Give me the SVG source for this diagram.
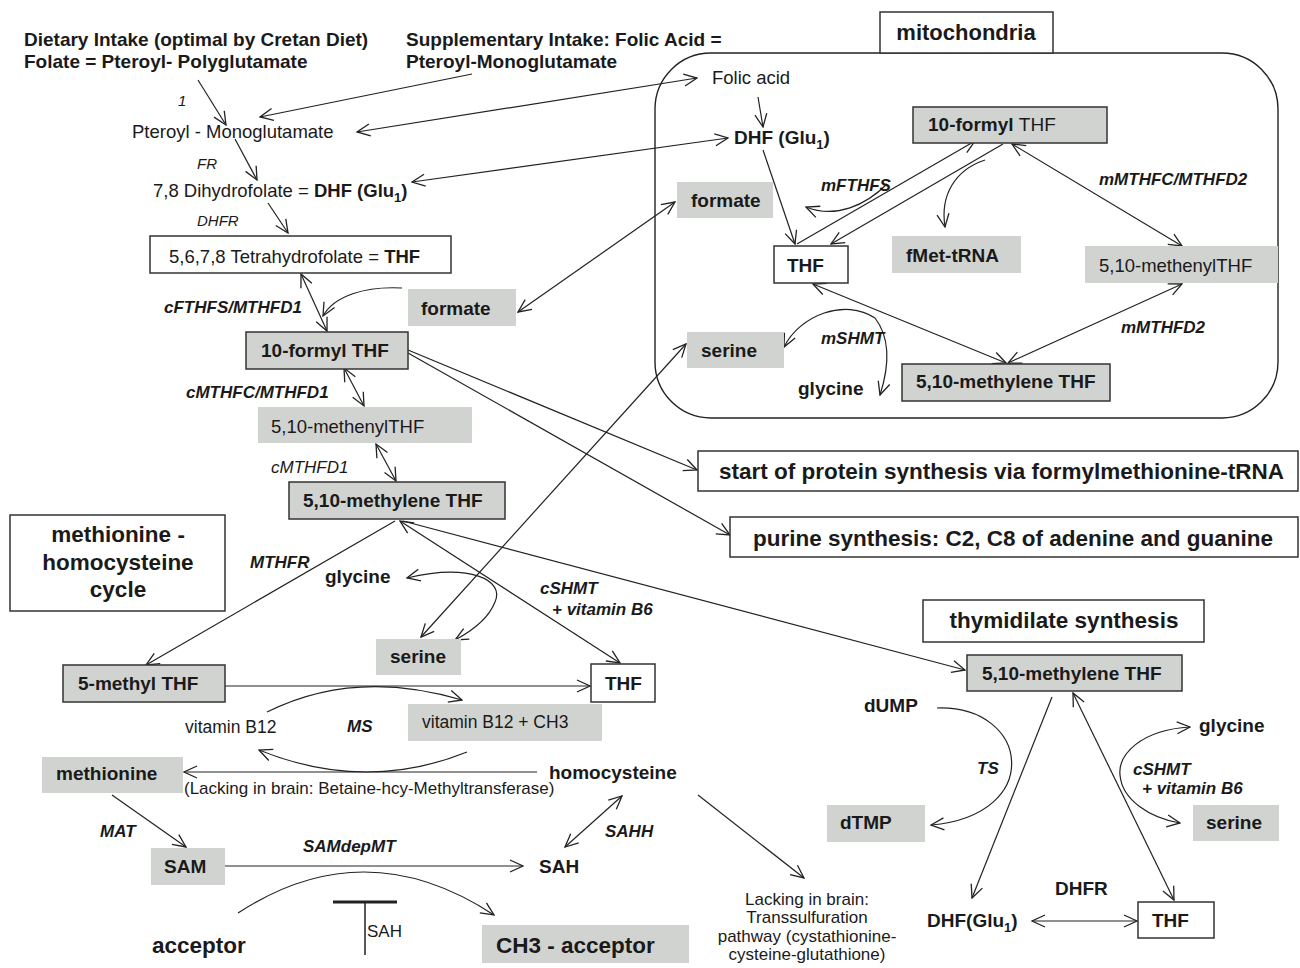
<svg xmlns="http://www.w3.org/2000/svg" width="1300" height="968" viewBox="0 0 1300 968">
<defs>
<marker id="a" markerUnits="userSpaceOnUse" markerWidth="15" markerHeight="15" viewBox="0 0 15 15" refX="14" refY="7.5" orient="auto-start-reverse">
<path d="M1,1.5 L14,7.5 L1,13.5" fill="none" stroke="#222" stroke-width="1.3"/>
</marker>
</defs>
<style>
text{font-family:"Liberation Sans",Arial,sans-serif;fill:#1a1a1a}
.b{font-weight:bold}
.r{font-size:18.5px}
.n{font-size:19px;font-weight:bold}
.e{font-size:17px;font-weight:bold;font-style:italic}
.i{font-size:15px;font-style:italic}
.h{font-size:19px;font-weight:bold}
.big{font-size:22.5px;font-weight:bold}
.g{fill:#d1d3d1;stroke:none}
.gb{fill:#d1d3d1;stroke:#333;stroke-width:1.5}
.w{fill:#fff;stroke:#333;stroke-width:1.5}
.c line,.c path{stroke:#222;stroke-width:1.2;fill:none}
.s{marker-end:url(#a)}
.d{marker-start:url(#a);marker-end:url(#a)}
</style>

<!-- containers -->
<rect id="mito-compartment" x="655" y="53" width="623" height="365" rx="56" fill="none" stroke="#222" stroke-width="1.4"/>

<g id="headers">
<text class="h" x="24" y="46">Dietary Intake (optimal by Cretan Diet)</text>
<text class="h" x="24" y="68">Folate = Pteroyl- Polyglutamate</text>
<text class="h" x="406" y="46">Supplementary Intake: Folic Acid =</text>
<text class="h" x="406" y="68">Pteroyl-Monoglutamate</text>
</g>
<g id="mitochondria-label"><rect class="w" x="880" y="12" width="173" height="41"/><text class="b" x="966" y="40" font-size="22" text-anchor="middle">mitochondria</text></g>

<!-- connectors -->
<g id="connectors" class="c">
<line class="s" x1="198" y1="80" x2="226" y2="125"/>
<line class="s" x1="472" y1="74" x2="260" y2="117"/>
<line class="d" x1="357" y1="132" x2="697" y2="78"/>
<line class="s" x1="235" y1="139" x2="257" y2="180"/>
<line class="d" x1="412" y1="182" x2="728" y2="138"/>
<line class="s" x1="268" y1="203" x2="288" y2="233"/>
<line class="d" x1="301" y1="274" x2="327" y2="331"/>
<path class="s" d="M402,288 C365,286 334,296 323,316"/>
<line class="d" x1="518" y1="312" x2="675" y2="202"/>
<line class="d" x1="344" y1="368" x2="364" y2="406"/>
<line class="d" x1="376" y1="444" x2="396" y2="481"/>
<line class="s" x1="408" y1="350" x2="697" y2="470"/>
<line class="s" x1="408" y1="353" x2="730" y2="535"/>
<line class="s" x1="395" y1="521" x2="146" y2="665"/>
<line class="d" x1="400" y1="521" x2="620" y2="663"/>
<line class="s" x1="403" y1="521" x2="965" y2="670"/>
<line class="d" x1="421" y1="637" x2="686" y2="344"/>
<path class="d" d="M407,578 C470,563 505,580 495,602 C488,620 470,632 455,640"/>
<line class="s" x1="225" y1="686" x2="590" y2="686"/>
<path class="s" d="M267,712 Q355,668 462,700"/>
<path class="s" d="M467,752 Q365,793 259,750"/>
<line class="s" x1="537" y1="772" x2="184" y2="772"/>
<line class="s" x1="112" y1="795" x2="186" y2="847"/>
<line class="s" x1="225" y1="866" x2="523" y2="866"/>
<line class="d" x1="565" y1="847" x2="622" y2="796"/>
<line class="s" x1="698" y1="795" x2="804" y2="878"/>
<path class="s" d="M238,913 Q365,830 494,915"/>
<line x1="333" y1="902" x2="397" y2="902" style="stroke-width:3"/>
<line x1="365" y1="902" x2="365" y2="955" style="stroke-width:1.5"/>
<!-- mitochondria -->
<line class="s" x1="758" y1="97" x2="763" y2="127"/>
<line class="s" x1="763" y1="150" x2="795" y2="244"/>
<line class="s" x1="797" y1="244" x2="975" y2="141"/>
<line class="s" x1="1003" y1="144" x2="831" y2="244"/>
<path class="s" d="M887,184 C866,205 836,219 806,207"/>
<path class="s" d="M985,160 C955,170 940,195 945,227"/>
<line class="d" x1="1012" y1="144" x2="1182" y2="246"/>
<line class="d" x1="813" y1="284" x2="1006" y2="363"/>
<line class="d" x1="1008" y1="363" x2="1182" y2="284"/>
<path class="d" d="M784,347 C800,315 845,298 875,318 C892,340 888,370 880,395"/>
<!-- thymidilate -->
<line class="s" x1="1052" y1="697" x2="972" y2="898"/>
<line class="d" x1="1073" y1="693" x2="1174" y2="900"/>
<line class="d" x1="1032" y1="921" x2="1137" y2="921"/>
<path class="s" d="M937,708 C1030,705 1045,815 931,825"/>
<path class="d" d="M1190,727 C1140,730 1118,755 1120,775 C1122,800 1150,818 1180,823"/>
</g>

<!-- left chain -->
<g id="lbl-1"><text class="i" x="178" y="106" font-size="14">1</text></g>
<g id="pteroyl-mono"><text class="r" x="132" y="138">Pteroyl - Monoglutamate</text></g>
<g id="lbl-FR"><text class="i" x="197" y="169">FR</text></g>
<g id="dhf-left"><text class="r" x="153" y="197">7,8 Dihydrofolate = <tspan class="b">DHF (Glu</tspan><tspan class="b" font-size="13" dy="5">1</tspan><tspan class="b" dy="-5">)</tspan></text></g>
<g id="lbl-DHFR"><text class="i" x="197" y="226">DHFR</text></g>
<g id="thf-main"><rect class="w" x="150" y="236" width="301" height="37"/><text class="r" x="169" y="263">5,6,7,8 Tetrahydrofolate  = <tspan class="b">THF</tspan></text></g>
<g id="lbl-cFTHFS"><text class="e" x="164" y="313">cFTHFS/MTHFD1</text></g>
<g id="formate-c"><rect class="g" x="408" y="289" width="108" height="37"/><text class="n" x="421" y="315">formate</text></g>
<g id="formyl-c"><rect class="gb" x="246" y="332" width="162" height="37"/><text class="n" x="261" y="357">10-formyl THF</text></g>
<g id="lbl-cMTHFC"><text class="e" x="186" y="398">cMTHFC/MTHFD1</text></g>
<g id="methenyl-c"><rect class="g" x="258" y="407" width="214" height="36"/><text class="r" x="271" y="433">5,10-methenylTHF</text></g>
<g id="lbl-cMTHFD1"><text x="271" y="473" font-size="17" font-style="italic">cMTHFD1</text></g>
<g id="methylene-c"><rect class="gb" x="289" y="482" width="216" height="37"/><text class="n" x="303" y="507">5,10-methylene THF</text></g>

<!-- right boxes -->
<g id="protein"><rect class="w" x="698" y="451" width="600" height="40"/><text class="big" x="719" y="479">start of protein synthesis via formylmethionine-tRNA</text></g>
<g id="purine"><rect class="w" x="730" y="517" width="568" height="40"/><text class="big" x="753" y="546">purine synthesis: C2, C8 of adenine and guanine</text></g>

<!-- methionine cycle -->
<g id="cycle-label"><rect class="w" x="10" y="515" width="215" height="96"/><text class="big" text-anchor="middle" x="118" y="542">methionine -</text><text class="big" text-anchor="middle" x="118" y="570">homocysteine</text><text class="big" text-anchor="middle" x="118" y="597">cycle</text></g>
<g id="lbl-MTHFR"><text class="e" x="250" y="568">MTHFR</text></g>
<g id="glycine-c"><text class="n" x="325" y="583">glycine</text></g>
<g id="serine-c"><rect class="g" x="376" y="639" width="85" height="36"/><text class="n" x="390" y="663">serine</text></g>
<g id="lbl-cSHMT"><text class="e" x="540" y="594">cSHMT</text><text class="e" x="552" y="615">+ vitamin B6</text></g>
<g id="methylthf"><rect class="gb" x="63" y="665" width="162" height="37"/><text class="n" x="78" y="690">5-methyl THF</text></g>
<g id="thf-c"><rect class="w" x="591" y="664" width="64" height="38"/><text class="n" x="605" y="690">THF</text></g>
<g id="vitb12"><text x="185" y="733" font-size="17.5">vitamin B12</text></g>
<g id="lbl-MS"><text class="e" x="347" y="732">MS</text></g>
<g id="vitb12ch3"><rect class="g" x="408" y="704" width="194" height="37"/><text x="422" y="728" font-size="17.5">vitamin B12 + CH3</text></g>
<g id="methionine"><rect class="g" x="42" y="757" width="141" height="36"/><text class="n" x="56" y="780">methionine</text></g>
<g id="lacking1"><text x="184" y="794" font-size="17">(Lacking in brain: Betaine-hcy-Methyltransferase)</text></g>
<g id="homocysteine"><text class="n" x="549" y="779">homocysteine</text></g>
<g id="lbl-MAT"><text class="e" x="100" y="837">MAT</text></g>
<g id="sam"><rect class="g" x="151" y="848" width="74" height="37"/><text class="n" x="164" y="873">SAM</text></g>
<g id="lbl-SAMdepMT"><text class="e" x="303" y="852">SAMdepMT</text></g>
<g id="sah"><text class="n" x="539" y="873">SAH</text></g>
<g id="lbl-SAHH"><text class="e" x="605" y="837">SAHH</text></g>
<g id="acceptor"><text class="big" x="152" y="953">acceptor</text></g>
<g id="sah-inhib"><text x="367" y="937" font-size="17">SAH</text></g>
<g id="ch3acceptor"><rect class="g" x="482" y="925" width="207" height="38"/><text class="big" x="496" y="953">CH3 - acceptor</text></g>
<g id="lacking2"><text font-size="17" text-anchor="middle"><tspan x="807" y="905">Lacking in brain:</tspan><tspan x="807" y="923">Transsulfuration</tspan><tspan x="807" y="942">pathway (cystathionine-</tspan><tspan x="807" y="960">cysteine-glutathione)</tspan></text></g>

<!-- mitochondria nodes -->
<g id="folic-m"><text class="r" x="712" y="84">Folic acid</text></g>
<g id="dhf-m"><text class="n" x="734" y="144">DHF (Glu<tspan font-size="13" dy="5">1</tspan><tspan dy="-5">)</tspan></text></g>
<g id="formyl-m"><rect class="gb" x="913" y="107" width="194" height="36"/><text class="n" x="928" y="131">10-formyl <tspan font-weight="normal">THF</tspan></text></g>
<g id="formate-m"><rect class="g" x="677" y="182" width="96" height="36"/><text class="n" x="691" y="207">formate</text></g>
<g id="lbl-mFTHFS"><text class="e" x="821" y="191">mFTHFS</text></g>
<g id="thf-m"><rect class="w" x="774" y="246" width="74" height="37"/><text class="n" x="787" y="272">THF</text></g>
<g id="fmet"><rect class="g" x="892" y="236" width="129" height="37"/><text class="n" x="906" y="262">fMet-tRNA</text></g>
<g id="lbl-mMTHFC"><text class="e" x="1099" y="185">mMTHFC/MTHFD2</text></g>
<g id="methenyl-m"><rect class="g" x="1085" y="246" width="193" height="37"/><text class="r" x="1099" y="272">5,10-methenylTHF</text></g>
<g id="serine-m"><rect class="g" x="687" y="332" width="97" height="36"/><text class="n" x="701" y="357">serine</text></g>
<g id="lbl-mSHMT"><text class="e" x="821" y="344">mSHMT</text></g>
<g id="glycine-m"><text class="n" x="798" y="395">glycine</text></g>
<g id="methylene-m"><rect class="gb" x="902" y="364" width="208" height="37"/><text class="n" x="916" y="388">5,10-methylene THF</text></g>
<g id="lbl-mMTHFD2"><text class="e" x="1121" y="333">mMTHFD2</text></g>

<!-- thymidilate -->
<g id="thym-label"><rect class="w" x="923" y="600" width="281" height="42"/><text class="big" x="1064" y="628" text-anchor="middle">thymidilate synthesis</text></g>
<g id="methylene-t"><rect class="gb" x="967" y="655" width="215" height="36"/><text class="n" x="982" y="680">5,10-methylene THF</text></g>
<g id="dump"><text class="n" x="864" y="712">dUMP</text></g>
<g id="lbl-TS"><text class="e" x="977" y="774">TS</text></g>
<g id="dtmp"><rect class="g" x="827" y="805" width="98" height="37"/><text class="n" x="840" y="829">dTMP</text></g>
<g id="glycine-t"><text class="n" x="1199" y="732">glycine</text></g>
<g id="lbl-cSHMT-t"><text class="e" x="1133" y="775">cSHMT</text><text class="e" x="1142" y="794">+ vitamin B6</text></g>
<g id="serine-t"><rect class="g" x="1193" y="805" width="86" height="36"/><text class="n" x="1206" y="829">serine</text></g>
<g id="lbl-DHFR-t"><text class="n" x="1055" y="895">DHFR</text></g>
<g id="dhf-t"><text class="n" x="927" y="927">DHF(Glu<tspan font-size="13" dy="5">1</tspan><tspan dy="-5">)</tspan></text></g>
<g id="thf-t"><rect class="w" x="1138" y="902" width="76" height="36"/><text class="n" x="1152" y="927">THF</text></g>
</svg>
